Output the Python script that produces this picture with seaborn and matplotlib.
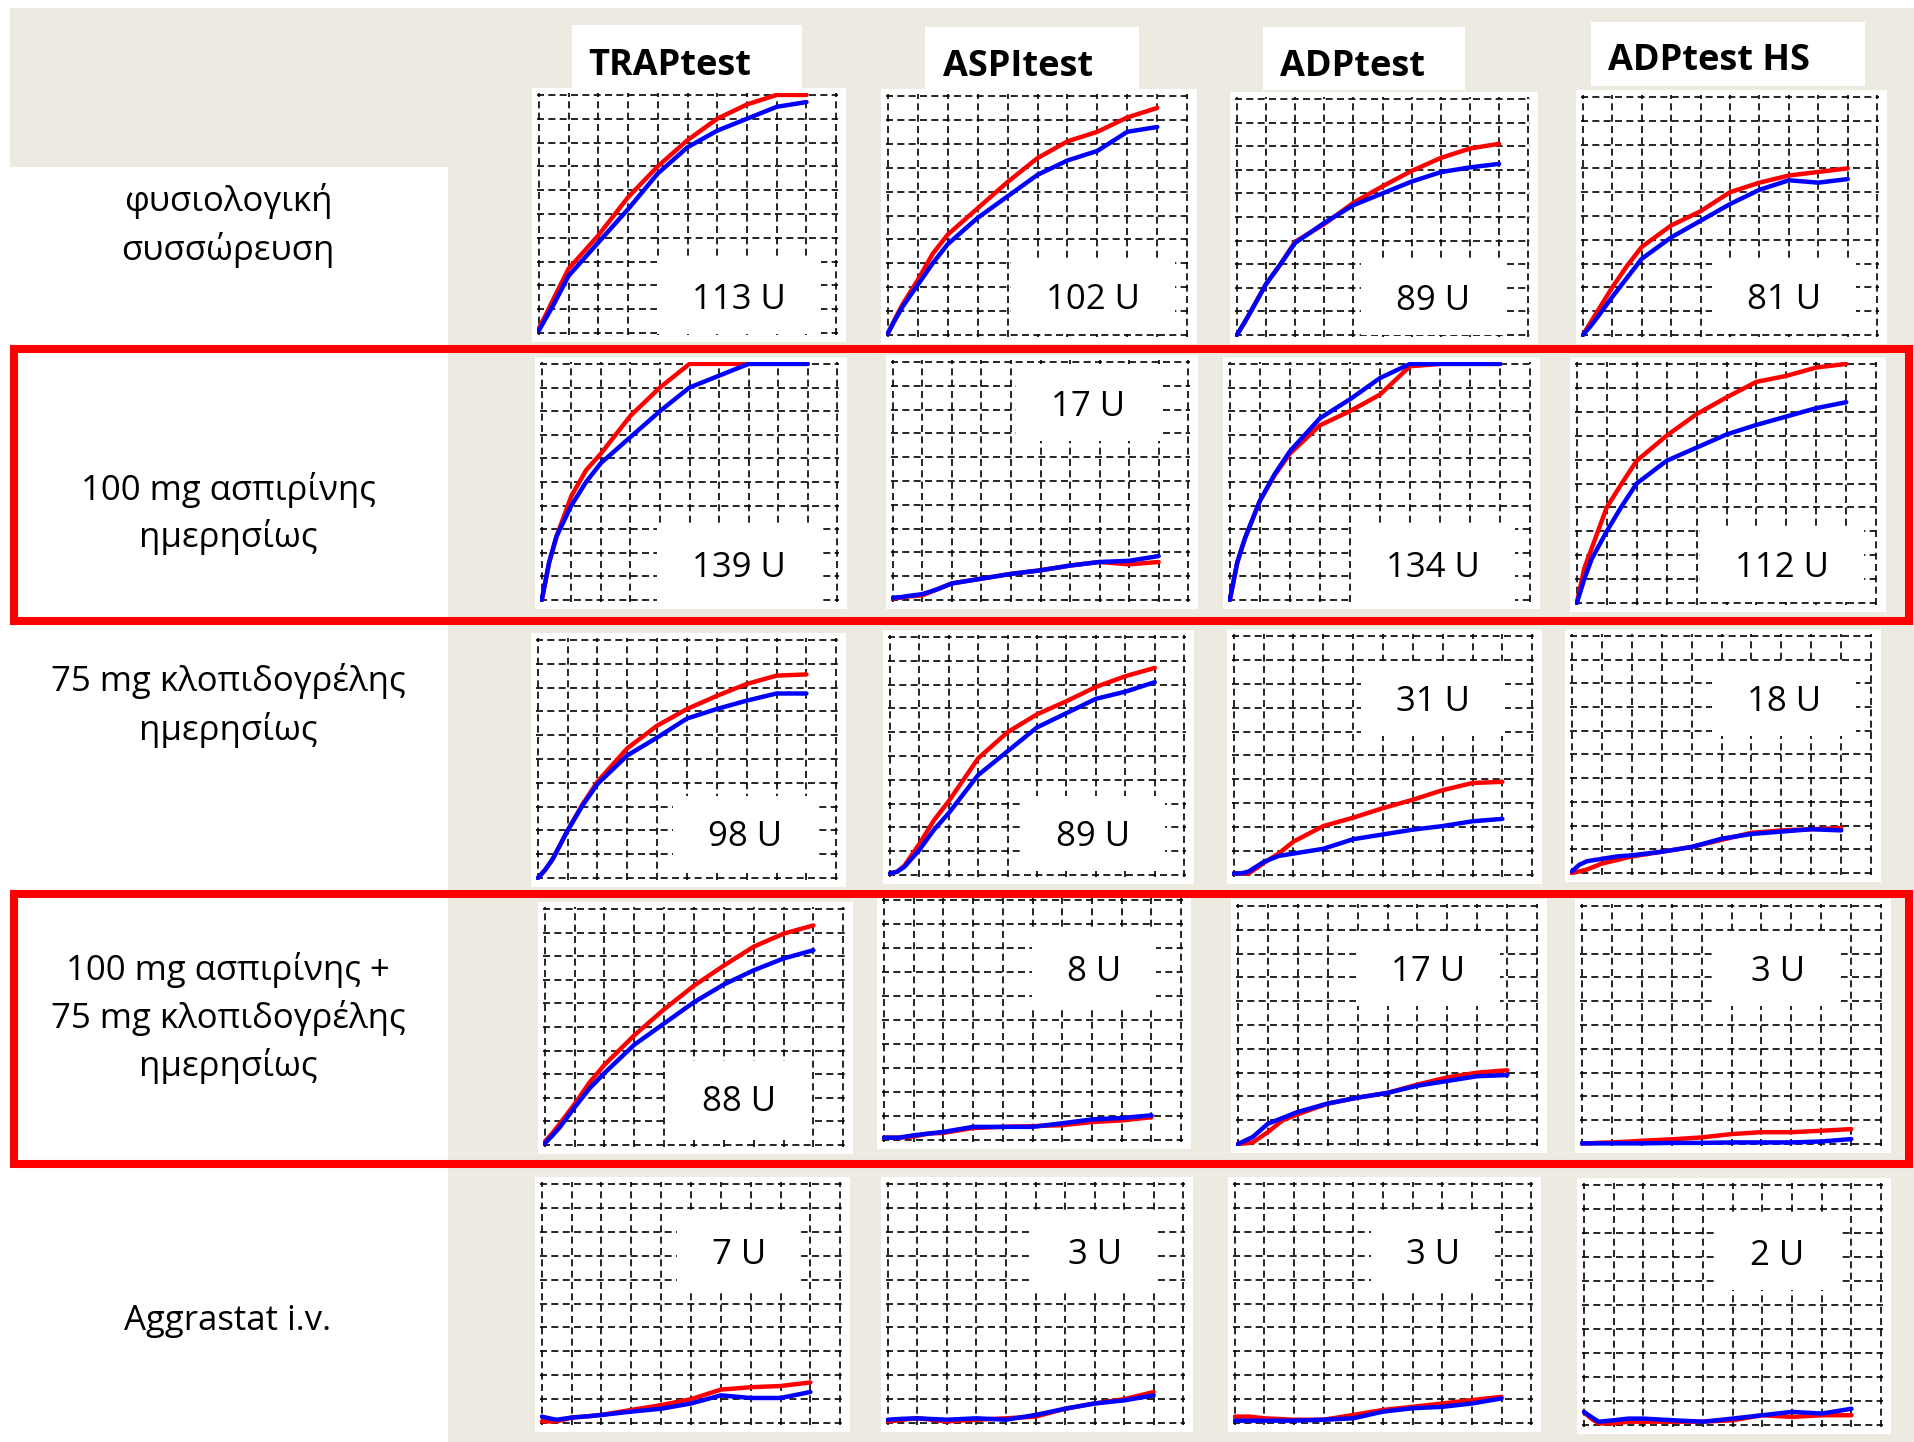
import numpy as np
import matplotlib
matplotlib.use("Agg")
import matplotlib.pyplot as plt
import seaborn as sns
from matplotlib.patches import Rectangle

sns.set_theme(style="white")
plt.rcParams["font.family"] = ["Open Sans", "DejaVu Sans"]

# ---------------------------------------------------------------- data
TESTS = ["TRAPtest", "ASPItest", "ADPtest", "ADPtest HS"]

ROW_LABELS = [
    ["φυσιολογική", "συσσώρευση"],
    ["100 mg ασπιρίνης", "ημερησίως"],
    ["75 mg κλοπιδογρέλης", "ημερησίως"],
    ["100 mg ασπιρίνης +", "75 mg κλοπιδογρέλης", "ημερησίως"],
    ["Aggrastat i.v."],
]

# time axis (grid divisions) shared by every aggregation trace
TIME = [0, 0.25, 0.5, 1, 1.5, 2, 3, 4, 5, 6, 7, 8, 9]

# aggregation units per test (TRAP, ASPI, ADP, ADP HS)
units_normal = [113, 102, 89, 81]
units_aspirin = [139, 17, 134, 112]
units_clopi = [98, 89, 31, 18]
units_combo = [88, 8, 17, 3]
units_aggr = [7, 3, 3, 2]

# aggregation curves, red and blue electrode pairs, one list per test
normal_red = [
    [0.2, 0.8, 1.45, 2.7, 3.4, 4.1, 5.7, 7.0, 8.1, 9.0, 9.6, 10, 10],
    [0.07, 0.7, 1.3, 2.3, 3.4, 4.2, 5.3, 6.4, 7.4, 8.1, 8.5, 9.1, 9.5],
    [0, 0.5, 1.04, 2.15, 3.0, 3.95, 4.7, 5.6, 6.3, 6.95, 7.5, 7.9, 8.1],
    [0, 0.5, 1.0, 2.0, 2.9, 3.7, 4.6, 5.2, 6.0, 6.4, 6.7, 6.85, 7.0],
]
normal_blue = [
    [0.1, 0.65, 1.2, 2.4, 3.1, 3.8, 5.2, 6.7, 7.8, 8.5, 9.0, 9.5, 9.7],
    [0.07, 0.65, 1.2, 2.1, 3.0, 3.8, 4.9, 5.8, 6.7, 7.3, 7.7, 8.5, 8.7],
    [0, 0.5, 1.04, 2.15, 3.0, 3.9, 4.75, 5.5, 6.0, 6.5, 6.9, 7.1, 7.25],
    [0, 0.35, 0.75, 1.6, 2.4, 3.2, 4.1, 4.8, 5.5, 6.1, 6.5, 6.4, 6.55],
]
aspirin_red = [
    [0, 1.6, 2.7, 4.4, 5.5, 6.2, 7.8, 9.0, 10, 10, 10, 10, 10],
    [0.07, 0.1, 0.15, 0.2, 0.45, 0.7, 0.9, 1.1, 1.25, 1.45, 1.6, 1.5, 1.6],
    [0, 1.6, 2.6, 4.2, 5.3, 6.2, 7.4, 8.0, 8.7, 9.9, 10, 10, 10],
    [0, 1.45, 2.3, 4.0, 5.0, 5.95, 7.0, 7.9, 8.6, 9.25, 9.5, 9.85, 10],
]
aspirin_blue = [
    [0, 1.6, 2.7, 4.0, 5.0, 5.8, 6.9, 8.0, 9.0, 9.5, 10, 10, 10],
    [0.1, 0.12, 0.17, 0.25, 0.45, 0.7, 0.9, 1.1, 1.25, 1.45, 1.6, 1.65, 1.85],
    [0, 1.6, 2.6, 4.2, 5.35, 6.3, 7.7, 8.5, 9.4, 10, 10, 10, 10],
    [0, 1.0, 1.85, 3.0, 4.05, 5.0, 5.95, 6.5, 7.05, 7.45, 7.8, 8.15, 8.4],
]
clopi_red = [
    [0, 0.35, 0.8, 2.0, 3.1, 4.05, 5.45, 6.4, 7.1, 7.65, 8.15, 8.5, 8.55],
    [0.07, 0.14, 0.4, 1.3, 2.3, 3.1, 4.9, 6.0, 6.75, 7.3, 7.9, 8.35, 8.7],
    [0.07, 0.07, 0.07, 0.5, 0.9, 1.4, 2.05, 2.4, 2.8, 3.15, 3.55, 3.85, 3.9],
    [0, 0.07, 0.15, 0.4, 0.55, 0.7, 0.9, 1.1, 1.4, 1.7, 1.8, 1.85, 1.9],
]
clopi_blue = [
    [0, 0.35, 0.8, 2.0, 3.05, 3.95, 5.15, 5.9, 6.7, 7.1, 7.45, 7.75, 7.75],
    [0.07, 0.14, 0.35, 1.05, 1.9, 2.6, 4.2, 5.2, 6.2, 6.8, 7.4, 7.7, 8.1],
    [0.07, 0.07, 0.15, 0.55, 0.8, 0.9, 1.1, 1.5, 1.7, 1.9, 2.05, 2.25, 2.35],
    [0.07, 0.35, 0.5, 0.6, 0.7, 0.75, 0.9, 1.1, 1.45, 1.65, 1.75, 1.85, 1.8],
]
combo_red = [
    [0.14, 0.5, 0.9, 1.74, 2.65, 3.4, 4.65, 5.75, 6.75, 7.6, 8.4, 8.95, 9.3],
    [0.1, 0.1, 0.1, 0.15, 0.27, 0.3, 0.5, 0.55, 0.58, 0.62, 0.75, 0.82, 0.95],
    [0, 0.03, 0.07, 0.5, 1.0, 1.25, 1.7, 1.95, 2.15, 2.5, 2.8, 3.0, 3.1],
    [0.03, 0.03, 0.05, 0.07, 0.1, 0.14, 0.2, 0.28, 0.42, 0.5, 0.5, 0.56, 0.63],
]
combo_blue = [
    [0.07, 0.4, 0.75, 1.6, 2.4, 3.05, 4.25, 5.15, 6.05, 6.8, 7.4, 7.9, 8.25],
    [0.1, 0.1, 0.1, 0.2, 0.27, 0.34, 0.55, 0.55, 0.55, 0.7, 0.86, 0.92, 1.03],
    [0, 0.15, 0.3, 0.85, 1.1, 1.35, 1.7, 1.95, 2.15, 2.45, 2.65, 2.85, 2.9],
    [0.03, 0.03, 0.03, 0.03, 0.03, 0.03, 0.05, 0.05, 0.07, 0.07, 0.07, 0.11, 0.21],
]
aggr_red = [
    [0.07, 0.07, 0.07, 0.23, 0.28, 0.34, 0.55, 0.75, 1.0, 1.4, 1.5, 1.55, 1.7],
    [0.07, 0.1, 0.14, 0.2, 0.14, 0.07, 0.14, 0.2, 0.27, 0.6, 0.82, 1.0, 1.3],
    [0.27, 0.27, 0.27, 0.2, 0.17, 0.14, 0.14, 0.34, 0.55, 0.68, 0.82, 0.96, 1.1],
    [0.55, 0.27, 0.07, 0.07, 0.14, 0.14, 0.14, 0.14, 0.2, 0.41, 0.34, 0.41, 0.41],
]
aggr_blue = [
    [0.27, 0.2, 0.14, 0.23, 0.28, 0.34, 0.48, 0.6, 0.82, 1.16, 1.05, 1.05, 1.3],
    [0.14, 0.16, 0.18, 0.2, 0.17, 0.14, 0.2, 0.14, 0.34, 0.6, 0.82, 0.95, 1.16],
    [0.1, 0.1, 0.1, 0.1, 0.1, 0.1, 0.14, 0.2, 0.48, 0.62, 0.68, 0.82, 1.03],
    [0.55, 0.34, 0.14, 0.2, 0.27, 0.27, 0.2, 0.14, 0.27, 0.41, 0.55, 0.48, 0.68],
]

UNITS = [units_normal, units_aspirin, units_clopi, units_combo, units_aggr]
RED = [normal_red, aspirin_red, clopi_red, combo_red, aggr_red]
BLUE = [normal_blue, aspirin_blue, clopi_blue, combo_blue, aggr_blue]

# ---------------------------------------------------------------- layout (pixels, origin top-left)
W, H = 1914, 1442
BEIGE = "#ECEAE1"
RED_C = "#FF0000"
BLUE_C = "#0000FF"

GRID_BOX = [
    [(537, 93, 838, 335), (886, 94, 1189, 337), (1235, 97, 1530, 337), (1581, 95, 1879, 337)],
    [(540, 362, 839, 602), (891, 360, 1190, 602), (1228, 362, 1532, 602), (1575, 362, 1878, 605)],
    [(536, 638, 838, 880), (888, 635, 1186, 877), (1232, 634, 1534, 877), (1570, 634, 1873, 875)],
    [(543, 907, 845, 1147), (882, 898, 1183, 1142), (1236, 904, 1539, 1146), (1580, 904, 1883, 1146)],
    [(540, 1182, 842, 1425), (886, 1182, 1185, 1425), (1233, 1182, 1533, 1425), (1582, 1183, 1883, 1427)],
]
# position of the unit readout inside each panel (grid units)
LABEL_AT = [
    [(6.74, 1.55), (6.86, 1.6), (6.75, 1.6), (6.84, 1.6)],
    [(6.69, 1.5), (6.6, 8.25), (6.75, 1.5), (6.87, 1.6)],
    [(6.95, 1.86), (6.9, 1.74), (6.66, 7.37), (7.1, 7.34)],
    [(6.52, 1.96), (7.08, 7.13), (6.34, 7.36), (6.57, 7.36)],
    [(6.6, 7.16), (7.0, 7.16), (6.7, 7.16), (6.5, 7.2)],
]
HEADER_BOX = [(572, 25, 802, 89), (925, 27, 1139, 90), (1263, 27, 1465, 90), (1591, 22, 1865, 86)]
HEADER_AT = [(670, 75), (1018, 76), (1353, 76), (1709, 70)]
ROW_LINE_Y = [[201, 250], [490, 537], [681, 730], [970, 1018, 1066], [1321]]
ROW_X = 228

fig = plt.figure(figsize=(W / 100, H / 100), dpi=100)
fig.patch.set_facecolor("white")


def px_rect(x0, y0, x1, y1, **kw):
    r = Rectangle((x0 / W, 1 - y1 / H), (x1 - x0) / W, (y1 - y0) / H,
                  transform=fig.transFigure, **kw)
    fig.add_artist(r)
    return r


# backdrop and the white label column
px_rect(10, 8, W, H, facecolor=BEIGE, edgecolor="none", zorder=-3)
px_rect(10, 167, 448, H, facecolor="white", edgecolor="none", zorder=-2)

# column headers
for name, (bx0, by0, bx1, by1), (tx, ty) in zip(TESTS, HEADER_BOX, HEADER_AT):
    px_rect(bx0, by0, bx1, by1, facecolor="white", edgecolor="none", zorder=-2)
    fig.text(tx / W, 1 - ty / H, name, ha="center", va="baseline",
             fontsize=26, fontweight="bold", color="black")

# row labels
for lines, ys in zip(ROW_LABELS, ROW_LINE_Y):
    for line, y in zip(lines, ys):
        fig.text(ROW_X / W, 1 - y / H, line, ha="center", va="center",
                 fontsize=25, color="black")

VALUE_FS = 25
cap_pt = 0.714 * VALUE_FS
renderer = fig.canvas.get_renderer()

for r in range(5):
    for c in range(4):
        x0, y0, x1, y1 = GRID_BOX[r][c]
        px_rect(x0 - 5, y0 - 5, x1 + 8, y1 + 7, facecolor="white", edgecolor="none", zorder=-1)
        ax = fig.add_axes([x0 / W, 1 - y1 / H, (x1 - x0) / W, (y1 - y0) / H])
        ax.set_facecolor("none")
        ax.set_xlim(-0.06, 10.06)
        ax.set_ylim(-0.08, 10.08)
        ax.set_xticks(np.arange(11))
        ax.set_yticks(np.arange(11))
        ax.tick_params(length=0, labelbottom=False, labelleft=False)
        ax.grid(True, color="black", linestyle=(0, (4.2, 2.6)), linewidth=1.2)
        ax.set_axisbelow(True)
        for sp in ax.spines.values():
            sp.set_visible(False)

        sns.lineplot(x=TIME, y=RED[r][c], ax=ax, color=RED_C, linewidth=3.2,
                     errorbar=None, sort=False, zorder=3)
        sns.lineplot(x=TIME, y=BLUE[r][c], ax=ax, color=BLUE_C, linewidth=3.2,
                     errorbar=None, sort=False, zorder=4)
        ax.set_xlabel("")
        ax.set_ylabel("")

        lx, ly = LABEL_AT[r][c]
        t = ax.annotate(f"{UNITS[r][c]} U", (lx, ly), xytext=(0, -cap_pt / 2),
                        textcoords="offset points", ha="center", va="baseline",
                        fontsize=VALUE_FS, color="black", zorder=2.6)
        bb = t.get_window_extent(renderer)
        cx, cy = ax.transData.transform((lx, ly))
        bw, bh = bb.width + 70, 75
        inv = ax.transAxes.inverted()
        (ax0, ay0) = inv.transform((cx - bw / 2, cy - bh / 2))
        (ax1, ay1) = inv.transform((cx + bw / 2, cy + bh / 2))
        ax.add_patch(Rectangle((ax0, ay0), ax1 - ax0, ay1 - ay0, transform=ax.transAxes,
                               facecolor="white", edgecolor="none", zorder=2.5))

# red frames around the aspirin rows
for (top, bottom) in [(349, 621), (894, 1164)]:
    px_rect(14, top, 1909, bottom, facecolor="none", edgecolor=RED_C, linewidth=5.8, zorder=5)

fig.savefig("out.png", dpi=100, facecolor=fig.get_facecolor())
